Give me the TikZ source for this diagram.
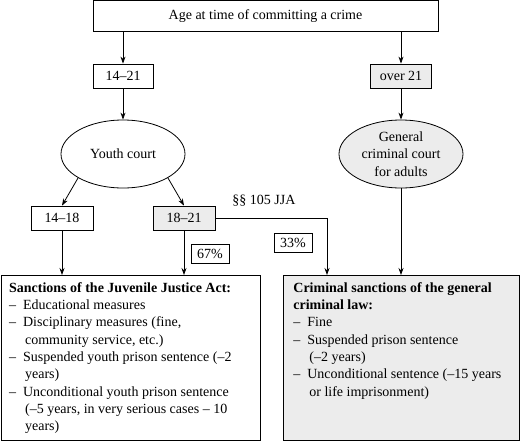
\documentclass[tikz,border=0pt]{standalone}
\usepackage{amsmath}
\usepackage{fontspec}
\setmainfont{Liberation Serif}
\usetikzlibrary{arrows.meta,shapes.geometric}

\tikzset{
  box/.style={draw, thick, inner sep=0pt, minimum height=24pt},
  shade/.style={fill=gray!15},
  court/.style={draw, thick, ellipse, inner sep=0pt, minimum width=124pt, minimum height=68pt, align=center},
  arr/.style={thick, -{Stealth[length=7pt,width=5pt]}},
}
\newcommand{\sitem}[1]{\par\hangindent=16pt\hangafter=1\noindent\makebox[14pt][l]{--}#1}

\begin{document}
\begin{tikzpicture}[x=1pt,y=-1pt,font=\rmfamily\fontsize{14}{17.3}\selectfont]
        \useasboundingbox (0,0) rectangle (520,442);
        % top row
        \node [box, minimum width=345pt, minimum height=31pt] (age) at (265.5,16) {Age at time of committing a crime};
        \node [box, minimum width=60pt] (r1421) at (123,76) {14--21};
        \node [box, shade, minimum width=61pt] (over) at (401,76) {over 21};
        % courts
        \node [court] (yc) at (123,154) {Youth court};
        \node [court, shade] (gcc) at (401,154) {General\\criminal court\\for adults};
        % age groups
        \node [box, minimum width=62pt] (r1418) at (62,218) {14--18};
        \node [box, shade, minimum width=62pt] (r1821) at (184,218) {18--21};
        \node (jja) at (264,201) {\S\S\ 105 JJA};
        \node [box, minimum width=38pt, minimum height=19pt] (p67) at (210,254) {67\%};
        \node [box, minimum width=38pt, minimum height=19pt] (p33) at (293,242.5) {33\%};
        % sanctions
        \node [box, anchor=north west] (jsanc) at (0.7,275) {\parbox[c][165pt][t]{259pt}{\vspace{7pt}\leftskip=8pt
            \noindent\textbf{Sanctions of the Juvenile Justice Act:}
            \sitem{Educational measures}
            \sitem{Disciplinary measures (fine,\\ community service, etc.)}
            \sitem{Suspended youth prison sentence (--2\\ years)}
            \sitem{Unconditional youth prison sentence\\ (--5 years, in very serious cases -- 10\\ years)}}};
        \node [box, shade, anchor=north west] (csanc) at (283,275) {\parbox[c][165pt][t]{236.3pt}{\vspace{7pt}\leftskip=10pt
            \noindent\textbf{Criminal sanctions of the general\\ criminal law:}
            \sitem{Fine}
            \sitem{Suspended prison sentence\\ (--2 years)}
            \sitem{Unconditional sentence (--15 years\\ or life imprisonment)}}};
        % connectors
        \draw [arr] (age.south -| r1421.north) -- (r1421.north);
        \draw [arr] (age.south -| over.north) -- (over.north);
        \draw [arr] (r1421.south) -- (yc.north);
        \draw [arr] (over.south) -- (gcc.north);
        \draw [arr] (yc.208) -- (r1418.north);
        \draw [arr] (yc.332) -- (r1821.north);
        \draw [arr] (r1418.south) -- (r1418.south |- jsanc.north);
        \draw [arr] (r1821.south) -- (r1821.south |- jsanc.north);
        \draw [arr] (r1821.east) -| ([xshift=44pt]csanc.north west);
        \draw [arr] (gcc.south) -- (gcc.south |- csanc.north);
    \end{tikzpicture}
\end{document}
